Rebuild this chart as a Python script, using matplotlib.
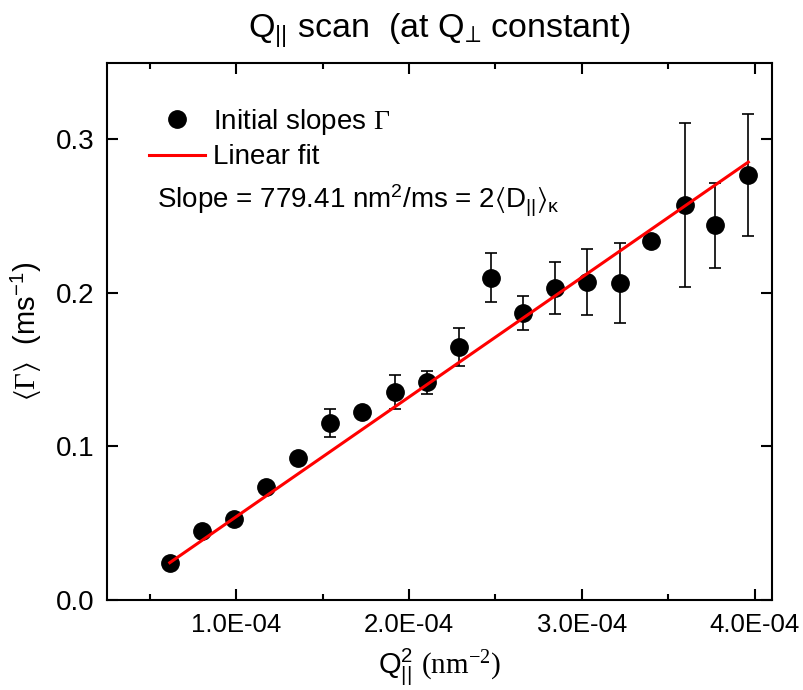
import numpy as np
import matplotlib
matplotlib.use("Agg")
import matplotlib.pyplot as plt
from matplotlib.ticker import MultipleLocator, FuncFormatter

plt.rcParams["font.family"] = ["Liberation Sans", "DejaVu Sans"]
plt.rcParams["mathtext.fontset"] = "custom"
plt.rcParams["mathtext.rm"] = "Liberation Sans"
plt.rcParams["mathtext.it"] = "Liberation Sans:italic"
plt.rcParams["mathtext.bf"] = "Liberation Sans:bold"
plt.rcParams["mathtext.sf"] = "Liberation Serif"
plt.rcParams["mathtext.fallback"] = "stixsans"

# data
q2 = np.array([0.616, 0.800, 0.988, 1.171, 1.358, 1.545, 1.730, 1.917, 2.103, 2.290,
               2.476, 2.660, 2.847, 3.030, 3.218, 3.400, 3.594, 3.770, 3.963]) * 1e-4
gamma = np.array([0.0239, 0.0450, 0.0526, 0.0737, 0.0924, 0.1152, 0.1222, 0.1353, 0.1418, 0.1648,
                  0.2098, 0.1870, 0.2033, 0.2070, 0.2066, 0.2337, 0.2570, 0.2440, 0.2768])
gamma_err = np.array([0.0, 0.0, 0.0, 0.0, 0.0, 0.0091, 0.0, 0.0110, 0.0075, 0.0125,
                      0.0160, 0.0110, 0.0170, 0.0215, 0.0260, 0.0, 0.0533, 0.0277, 0.0400])

fit_slope = 779.41
fit_intercept = -0.0237

fig = plt.figure(figsize=(8.04, 6.9), dpi=100)
ax = fig.add_axes([0.1325, 0.1304, 0.8277, 0.779])

ax.errorbar(q2, gamma, yerr=gamma_err, fmt="none", ecolor="black",
            elinewidth=1.2, capsize=4, capthick=1.2, zorder=1)
pts, = ax.plot(q2, gamma, "o", color="black", markersize=12.5, zorder=2)

xfit = np.array([q2.min(), q2.max()])
fit, = ax.plot(xfit, fit_slope * xfit + fit_intercept, color="red", lw=2.2, zorder=3)

ax.set_xlim(0.25e-4, 4.1e-4)
ax.set_ylim(0, 0.35)

ax.xaxis.set_major_locator(MultipleLocator(1e-4))
ax.xaxis.set_minor_locator(MultipleLocator(0.5e-4))
ax.yaxis.set_major_locator(MultipleLocator(0.1))
ax.xaxis.set_major_formatter(FuncFormatter(lambda v, p: f"{v:.1E}"))
ax.yaxis.set_major_formatter(FuncFormatter(lambda v, p: f"{v:.1f}"))

for s in ax.spines.values():
    s.set_linewidth(1.5)
ax.tick_params(which="both", direction="in", top=True, right=True, width=1.5)
ax.tick_params(which="major", length=8)
ax.tick_params(which="minor", length=4.5)
ax.tick_params(axis="x", labelsize=18.5, pad=9)
ax.tick_params(axis="y", labelsize=20, pad=9)

ax.set_xlabel(r"Q$_{||}^{2}$ $\mathsf{(nm^{-2})}$", fontsize=21, labelpad=7)
ax.set_ylabel(r"$\langle\mathsf{\Gamma}\rangle$  (ms$^{-1}$)", fontsize=21, labelpad=8)

fig.text(0.546, 0.946, r"Q$_{||}$ scan  (at Q$_{⊥}$ constant)", fontsize=24.5,
         ha="center", va="baseline")

ax.legend([pts, fit], [r"Initial slopes $\mathsf{\Gamma}$", "Linear fit"],
          loc="upper left", bbox_to_anchor=(0.064, 0.918), frameon=False, fontsize=20,
          borderpad=0, borderaxespad=0, handlelength=2.0, handletextpad=0.3,
          labelspacing=0.28)

ax.text(0.076, 0.742, r"Slope = 779.41 nm$^2$/ms = 2$\langle$D$_{||}\rangle_{\mathrm{\kappa}}$",
        transform=ax.transAxes, fontsize=20, va="center")

fig.savefig("out.png", dpi=100)
